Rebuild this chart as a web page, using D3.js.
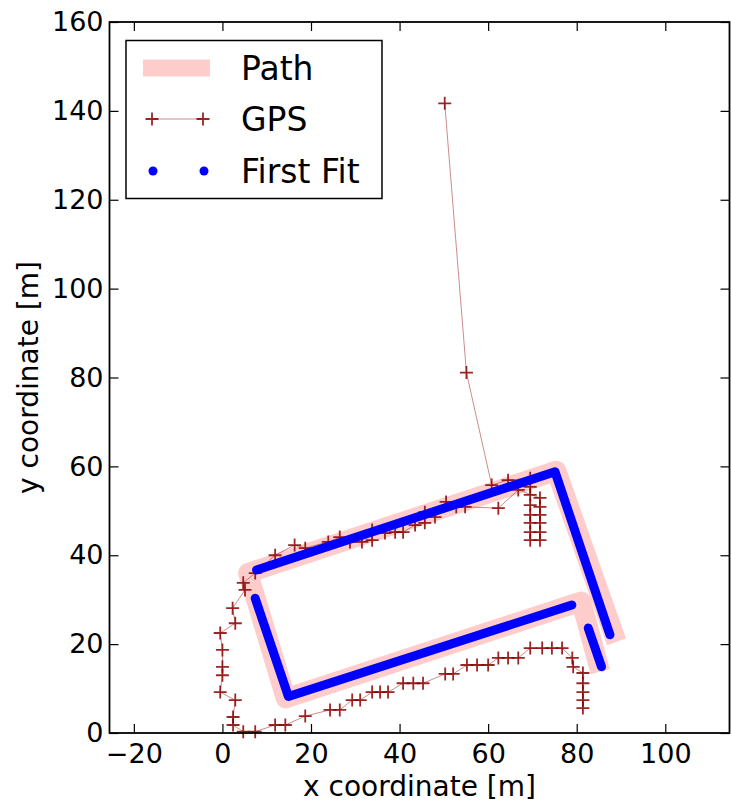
<!DOCTYPE html>
<html>
<head>
<meta charset="utf-8">
<script src="https://cdn.jsdelivr.net/npm/d3@7"></script>
<style>
    body { margin: 0; background: #fff; }
    text { font-family: "DejaVu Sans", sans-serif; }
</style>
</head>
<body>
<svg id="canvas"></svg>
<script>
// planned path (thick pink)
const pathX = [89, 75.4, 5.8, 14.3, 81, 85.3];
const pathY = [20.5, 59, 36, 7.8, 29.6, 13.8];

// GPS fixes, in driving order
const gpsX = [50.2, 55.1, 60.8, 64.5, 69.5, 69.5, 69.5, 69.5, 69.5, 69.5, 69.5, 69.5,
    71.7, 71.7, 71.7, 71.7, 71.7, 71.7, 66.8, 62.3, 54.8, 52.8, 50.5, 48, 45.7, 45.7,
    43.5, 40.8, 39, 36.7, 33.8, 33.8, 31.5, 28.8, 26.5, 23.9, 18.7, 16.3, 11.9, 7.4,
    4.7, 5.1, 2.3, 2.9, -0.5, 0, 0, 0, -0.5, 2.9, 2.4, 2.4, 4.7, 7.4, 11.9, 14.2,
    18.7, 24.3, 26.5, 29.3, 31.1, 33.8, 35.6, 37.4, 40.8, 43.1, 45.3, 50.3, 52.1,
    55.2, 57.5, 60, 62.3, 64.5, 66.8, 69.5, 72.2, 74.4, 76.7, 79, 79.2, 81.4, 81.4,
    81.4, 81.4, 81.4];
const gpsY = [141.7, 81.1, 55.8, 56.9, 57.3, 55.4, 53.6, 51.3, 49.1, 47.3, 45.2, 43.4,
    43.4, 45.2, 47.3, 49.1, 50.9, 52.9, 54.7, 50.6, 50.9, 50.9, 52, 48.6, 49.7, 47.3,
    46.8, 45.2, 45.2, 45, 45.7, 43.4, 43, 43, 44.1, 43, 41.6, 42.3, 40, 36,
    33.8, 32.2, 28.1, 24.7, 22.5, 18.7, 14.9, 13, 9.2, 7.4, 3.6, 1.8, 0.3, 0.3, 1.8, 1.8,
    3.8, 5.2, 5.2, 7.4, 7.4, 9.2, 9.2, 9.2, 11.2, 11.2, 11.2, 13.3, 13.3,
    15.3, 15.3, 15.3, 16.9, 16.9, 16.9, 19.1, 19.1, 19.1, 19.1, 16.9, 14.9, 13.5, 11.2,
    9.2, 7.4, 5.6];

// first fit, three pieces
const fitTopX = [7.7, 75.1, 87.5];
const fitTopY = [36.7, 58.8, 22.1];
const fitInnerX = [7.4, 14.9, 78.9];
const fitInnerY = [30.3, 8.2, 28.8];
const fitShortX = [82.6, 85.6];
const fitShortY = [23.6, 14.9];

const xTicks = [-20, 0, 20, 40, 60, 80, 100];
const yTicks = [0, 20, 40, 60, 80, 100, 120, 140, 160];
const legendLabels = ["Path", "GPS", "First Fit"];

const zip = (xs, ys) => xs.map((v, i) => [v, ys[i]]);

const svg = d3.select("#canvas")
    .attr("width", 731)
    .attr("height", 804);

const x = d3.scaleLinear().domain([-25.5, 114.5]).range([109.5, 729.5]);
const y = d3.scaleLinear().domain([0, 160]).range([733, 22]);

const line = d3.line().x(d => x(d[0])).y(d => y(d[1]));

const plot = svg.append("g");

plot.append("path")
    .datum(zip(pathX, pathY))
    .attr("d", line)
    .attr("fill", "none")
    .attr("stroke", "#ffcccc")
    .attr("stroke-width", 20)
    .attr("stroke-linejoin", "round");

const gps = zip(gpsX, gpsY);

plot.append("path")
    .datum(gps)
    .attr("d", line)
    .attr("fill", "none")
    .attr("stroke", "#8b0000")
    .attr("stroke-opacity", 0.45)
    .attr("stroke-width", 1);

const cross = "M-6.5,0H6.5M0,-6.5V6.5";

plot.append("g")
    .selectAll("path")
    .data(gps)
    .enter()
    .append("path")
    .attr("transform", d => "translate(" + x(d[0]) + "," + y(d[1]) + ")")
    .attr("d", cross)
    .attr("stroke", "#8b0000")
    .attr("stroke-opacity", 0.85)
    .attr("stroke-width", 1.8);

[zip(fitTopX, fitTopY), zip(fitInnerX, fitInnerY), zip(fitShortX, fitShortY)].forEach(seg => {
    plot.append("path")
        .datum(seg)
        .attr("d", line)
        .attr("fill", "none")
        .attr("stroke", "#0000ff")
        .attr("stroke-width", 9)
        .attr("stroke-linecap", "round")
        .attr("stroke-linejoin", "round");
});

// axes, ticks inside on all four sides
const styleAxis = (g, labels) => {
    g.select(".domain").remove();
    g.selectAll(".tick line").attr("stroke", "#000").attr("stroke-width", 1.2);
    g.selectAll(".tick text")
        .attr("font-family", "DejaVu Sans")
        .attr("font-size", 27)
        .attr("fill", "#000")
        .style("display", labels ? null : "none");
};

svg.append("g")
    .attr("transform", "translate(0,733)")
    .call(d3.axisBottom(x).tickValues(xTicks).tickSize(-9).tickPadding(11))
    .call(g => styleAxis(g, true));

svg.append("g")
    .attr("transform", "translate(0,22)")
    .call(d3.axisTop(x).tickValues(xTicks).tickSize(-9))
    .call(g => styleAxis(g, false));

svg.append("g")
    .attr("transform", "translate(109.5,0)")
    .call(d3.axisLeft(y).tickValues(yTicks).tickSize(-9).tickPadding(6))
    .call(g => styleAxis(g, true));

svg.append("g")
    .attr("transform", "translate(729.5,0)")
    .call(d3.axisRight(y).tickValues(yTicks).tickSize(-9))
    .call(g => styleAxis(g, false));

svg.append("rect")
    .attr("x", x.range()[0])
    .attr("y", y.range()[1])
    .attr("width", x.range()[1] - x.range()[0])
    .attr("height", y.range()[0] - y.range()[1])
    .attr("fill", "none")
    .attr("stroke", "#000")
    .attr("stroke-width", 1.8);

svg.append("text")
    .attr("x", 419.5)
    .attr("y", 796)
    .attr("text-anchor", "middle")
    .attr("font-size", 28)
    .text("x coordinate [m]");

svg.append("text")
    .attr("transform", "translate(38,377.5) rotate(-90)")
    .attr("text-anchor", "middle")
    .attr("font-size", 28)
    .text("y coordinate [m]");

// legend
const legend = svg.append("g");

legend.append("rect")
    .attr("x", 126)
    .attr("y", 40.5)
    .attr("width", 256)
    .attr("height", 158)
    .attr("fill", "#fff")
    .attr("stroke", "#000")
    .attr("stroke-width", 1.5);

const rowY = [68, 119, 171];

legend.append("line")
    .attr("x1", 143).attr("x2", 210)
    .attr("y1", rowY[0]).attr("y2", rowY[0])
    .attr("stroke", "#ffcccc")
    .attr("stroke-width", 17);

legend.append("line")
    .attr("x1", 152).attr("x2", 203)
    .attr("y1", rowY[1]).attr("y2", rowY[1])
    .attr("stroke", "#8b0000")
    .attr("stroke-opacity", 0.45)
    .attr("stroke-width", 1);

[152, 203].forEach(px => {
    legend.append("path")
        .attr("transform", "translate(" + px + "," + rowY[1] + ")")
        .attr("d", cross)
        .attr("stroke", "#8b0000")
        .attr("stroke-opacity", 0.85)
        .attr("stroke-width", 1.8);
    legend.append("circle")
        .attr("cx", px + 1)
        .attr("cy", rowY[2])
        .attr("r", 4.5)
        .attr("fill", "#0000ff");
});

legend.selectAll("text.label")
    .data(legendLabels)
    .enter()
    .append("text")
    .attr("class", "label")
    .attr("x", 241)
    .attr("y", (d, i) => rowY[i])
    .attr("dy", "0.36em")
    .attr("font-size", 33)
    .text(d => d);
</script>
</body>
</html>
